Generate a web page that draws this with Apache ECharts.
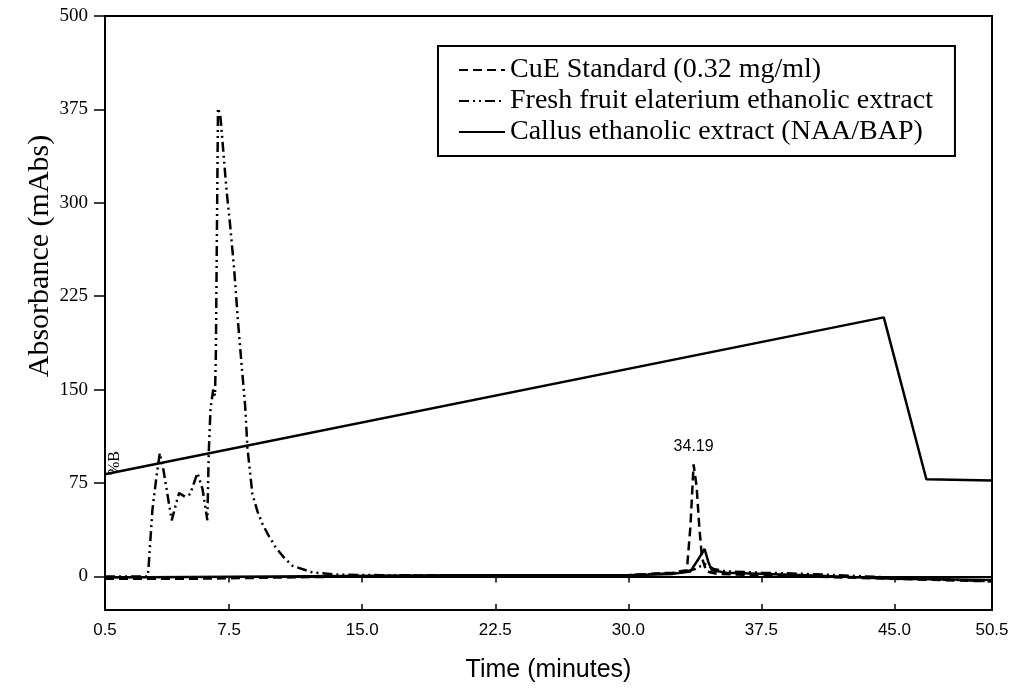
<!DOCTYPE html>
<html>
<head>
<meta charset="utf-8">
<script src="https://cdn.jsdelivr.net/npm/echarts@6/dist/echarts.min.js"></script>
<style>
html,body{margin:0;padding:0;background:#fff;}
#chart{width:1024px;height:688px;}
</style>
</head>
<body>
<div id="chart"></div>
<script>
// ---- data ----
const seriesNames = ['CuE Standard (0.32 mg/ml)', 'Fresh fruit elaterium ethanolic extract', 'Callus ethanolic extract (NAA/BAP)'];
const gradientName = '%B';
const peakLabel = '34.19';
const peakPoint = [33.68, 90];

const xTickValues = [0.5, 7.5, 15, 22.5, 30, 37.5, 45, 50.5];
const xTickLabels = ['0.5', '7.5', '15.0', '22.5', '30.0', '37.5', '45.0', '50.5'];
const yTickValues = [0, 75, 150, 225, 300, 375, 450];
const yTickLabels = ['0', '75', '150', '225', '300', '375', '500'];

// CuE standard (dashed)
const timeStd = [0.5, 5, 10, 15, 20, 25, 30, 32.5, 33.3, 33.5, 33.68, 33.85, 34.0, 34.15, 34.4, 35, 40, 45, 50.5];
const valStd  = [-2, -2, -1, 0, 1, 1, 1, 3, 5, 40, 90, 72, 40, 15, 4, 2, 0, -2, -4];

// Fresh fruit elaterium ethanolic extract (dash-dot-dot)
const timeFresh = [0.5, 2.9, 2.95, 3.17, 3.4, 3.59, 3.8, 4.26, 4.5, 4.68, 5.0, 5.3, 5.71, 6.0, 6.27, 6.35, 6.45, 6.6, 6.7, 6.75, 6.87, 7.0, 7.12, 7.35, 7.54, 7.78, 8.0, 8.2, 8.4, 8.53, 8.81, 9.1, 9.38, 9.75, 10.13, 10.6, 11.07, 12.2, 13.7, 16, 20, 25, 30, 33, 33.8, 34.3, 34.8, 35.5, 37.5, 40, 45, 50.5];
const valFresh  = [0, 0, 6, 53, 80, 99, 85, 45, 58, 67, 64, 66, 83, 70, 45, 100, 135, 150, 145, 180, 376, 370, 350, 310, 284, 247, 204, 170, 137, 103, 66, 52, 42, 32, 23, 15, 8.5, 3.2, 1.3, 1, 1, 1, 1, 3, 6, 10, 6, 4, 3, 2, -1, -4];

// Callus ethanolic extract (solid)
const timeCal = [0.5, 10, 20, 30, 32.5, 33.5, 34.0, 34.3, 34.5, 34.7, 35.5, 40, 45, 50.5];
const valCal  = [-1, 0, 1, 1, 2, 4, 15, 22, 12, 5, 3, 1, -2, -3];

// %B gradient profile (solid)
const timeB = [0.5, 44.4, 46.8, 50.5];
const valB  = [82, 208, 78, 77];

// ---- chart ----
const pair = (xs, ys) => xs.map((x, i) => [x, ys[i]]);
const chart = echarts.init(document.getElementById('chart'));
const serif = "'Liberation Serif', 'Times New Roman', serif";
const narrow = "'Liberation Sans Narrow', 'Arial Narrow', 'Liberation Sans', sans-serif";

const option = {
  animation: false,
  backgroundColor: '#fff',
  grid: { left: 105, right: 32, top: 16, bottom: 74, show: true, borderColor: '#000', borderWidth: 2 },
  legend: {
    data: seriesNames,
    orient: 'vertical',
    left: 438, top: 46,
    borderColor: '#000', borderWidth: 2,
    padding: [10, 22, 10, 20],
    itemGap: 3,
    itemWidth: 46, itemHeight: 14,
    itemStyle: { opacity: 0 },
    textStyle: { fontFamily: serif, fontSize: 28, color: '#000' }
  },
  xAxis: [{
    type: 'value', min: 0.5, max: 50.5,
    name: 'Time (minutes)', nameLocation: 'middle', nameGap: 48,
    nameTextStyle: { fontFamily: narrow, fontSize: 25, color: '#000' },
    axisLine: { lineStyle: { color: '#000', width: 2 } },
    axisTick: { show: true, length: 6, customValues: xTickValues, lineStyle: { color: '#000', width: 1.5 } },
    axisLabel: { customValues: xTickValues, margin: 12, fontFamily: narrow, fontSize: 17, color: '#000',
      formatter: v => xTickLabels[xTickValues.indexOf(v)] },
    splitLine: { show: false }
  }, {
    type: 'value', min: 0.5, max: 50.5, position: 'bottom',
    axisLine: { show: false },
    axisTick: { show: true, inside: true, length: 6, customValues: xTickValues, lineStyle: { color: '#000', width: 1.5 } },
    axisLabel: { show: false },
    splitLine: { show: false }
  }],
  yAxis: {
    type: 'value', min: -27, max: 450,
    axisLine: { show: true, lineStyle: { color: '#000', width: 2 } },
    axisTick: { show: true, length: 11, customValues: yTickValues, lineStyle: { color: '#000', width: 1.5 } },
    axisLabel: { customValues: yTickValues, margin: 17, fontFamily: serif, fontSize: 19, color: '#000',
      formatter: v => yTickLabels[yTickValues.indexOf(v)] },
    splitLine: { show: false }
  },
  graphic: [
    { type: 'text', x: 40, y: 256, rotation: Math.PI / 2,
      style: { text: 'Absorbance (mAbs)', fontFamily: serif, fontSize: 30, fill: '#000', textAlign: 'center', textVerticalAlign: 'middle' } },
    { type: 'text', x: 115, y: 463, rotation: Math.PI / 2,
      style: { text: gradientName, fontFamily: serif, fontSize: 16, fill: '#000', textAlign: 'center', textVerticalAlign: 'middle' } }
  ],
  series: [
    {
      name: seriesNames[0], type: 'line', symbol: 'none', data: pair(timeStd, valStd),
      lineStyle: { color: '#000', width: 2.5, type: [9, 5] }, itemStyle: { color: '#000' },
      markPoint: {
        symbol: 'circle', symbolSize: 0,
        data: [{ coord: peakPoint }],
        label: { show: true, position: 'top', distance: 10, formatter: peakLabel, fontFamily: narrow, fontSize: 16, color: '#000' }
      }
    },
    {
      name: seriesNames[1], type: 'line', symbol: 'none', data: pair(timeFresh, valFresh),
      lineStyle: { color: '#000', width: 2.5, type: [10, 4, 2, 4, 2, 4] }, itemStyle: { color: '#000' }
    },
    {
      name: seriesNames[2], type: 'line', symbol: 'none', data: pair(timeCal, valCal),
      lineStyle: { color: '#000', width: 2.5, type: 'solid' }, itemStyle: { color: '#000' }
    },
    {
      name: gradientName, type: 'line', symbol: 'none', data: pair(timeB, valB),
      lineStyle: { color: '#000', width: 2.5, type: 'solid' }, itemStyle: { color: '#000' }
    }
  ]
};
chart.setOption(option);
</script>
</body>
</html>
